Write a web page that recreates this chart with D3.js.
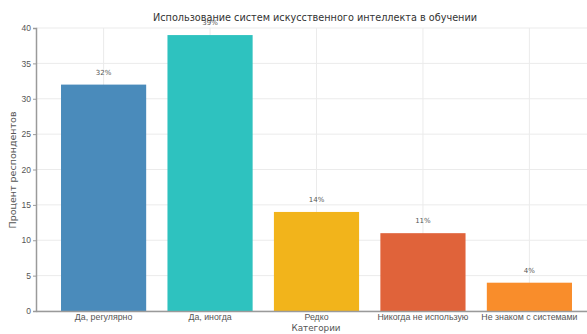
<!DOCTYPE html>
<html>
<head>
<meta charset="utf-8">
<script src="https://cdn.jsdelivr.net/npm/d3@7"></script>
<style>
  html, body { margin: 0; padding: 0; background: #fff; }
  svg { display: block; font-family: "DejaVu Sans", sans-serif; }
</style>
</head>
<body>
<svg id="chart" width="587" height="334"></svg>
<script>
// Survey: use of AI systems in learning
const categories = ["Да, регулярно", "Да, иногда", "Редко", "Никогда не использую", "Не знаком с системами"];
const values = [32, 39, 14, 11, 4];
const colors = ["#4a8bbb", "#2ec2bf", "#f2b41b", "#e0633a", "#f98d2b"];
const yTicks = [0, 5, 10, 15, 20, 25, 30, 35, 40];
const title = "Использование систем искусственного интеллекта в обучении";
const xTitle = "Категории";
const yTitle = "Процент респондентов";

const svg = d3.select("#chart");
const plotLeft = 36, plotRight = 597, plotTop = 28, plotBottom = 311;

const x = d3.scaleBand()
  .domain(categories)
  .range([plotLeft, plotRight])
  .paddingInner(0.2)
  .paddingOuter(0.235);

const y = d3.scaleLinear().domain([0, 40]).range([plotBottom, plotTop]);

// grid
const grid = svg.append("g");
grid.selectAll("line.h").data(yTicks).join("line")
  .attr("class", "h")
  .attr("x1", plotLeft).attr("x2", plotRight)
  .attr("y1", d => y(d)).attr("y2", d => y(d))
  .attr("stroke", "#ebebeb").attr("stroke-width", 1);
grid.selectAll("line.v").data(categories).join("line")
  .attr("class", "v")
  .attr("x1", d => x(d) + x.bandwidth() / 2).attr("x2", d => x(d) + x.bandwidth() / 2)
  .attr("y1", plotTop).attr("y2", plotBottom)
  .attr("stroke", "#ebebeb").attr("stroke-width", 1);

// bars
svg.append("g").selectAll("rect").data(values).join("rect")
  .attr("x", (d, i) => x(categories[i]))
  .attr("width", x.bandwidth())
  .attr("y", d => y(d))
  .attr("height", d => y(0) - y(d))
  .attr("fill", (d, i) => colors[i]);

// value labels
svg.append("g").selectAll("text").data(values).join("text")
  .attr("x", (d, i) => x(categories[i]) + x.bandwidth() / 2)
  .attr("y", d => y(d) - 10)
  .attr("text-anchor", "middle")
  .attr("font-size", 7)
  .attr("fill", "#555")
  .text(d => d + "%");

// axes
const yAxis = d3.axisLeft(y).tickValues(yTicks).tickSize(3).tickPadding(2);
const gy = svg.append("g").attr("transform", `translate(${plotLeft},0)`).call(yAxis);
gy.select(".domain").attr("stroke", "#9a9a9a").attr("stroke-width", 1.5);
gy.selectAll(".tick line").attr("stroke", "#9a9a9a");
gy.selectAll(".tick text").attr("font-size", 8.5).attr("fill", "#555");

const xAxis = d3.axisBottom(x).tickSize(0).tickPadding(3);
const gx = svg.append("g").attr("transform", `translate(0,${plotBottom})`).call(xAxis);
gx.select(".domain").attr("stroke", "#9a9a9a").attr("stroke-width", 1.5);
gx.selectAll(".tick text").attr("font-size", 8.8).attr("fill", "#555");

// titles
svg.append("text")
  .attr("x", 315).attr("y", 21)
  .attr("text-anchor", "middle")
  .attr("font-size", 9.7)
  .attr("fill", "#333")
  .text(title);

svg.append("text")
  .attr("x", 316).attr("y", 331)
  .attr("text-anchor", "middle")
  .attr("font-size", 8.8)
  .attr("fill", "#555")
  .text(xTitle);

svg.append("text")
  .attr("transform", "translate(16,170) rotate(-90)")
  .attr("text-anchor", "middle")
  .attr("font-size", 9.5)
  .attr("fill", "#555")
  .text(yTitle);
</script>
</body>
</html>
